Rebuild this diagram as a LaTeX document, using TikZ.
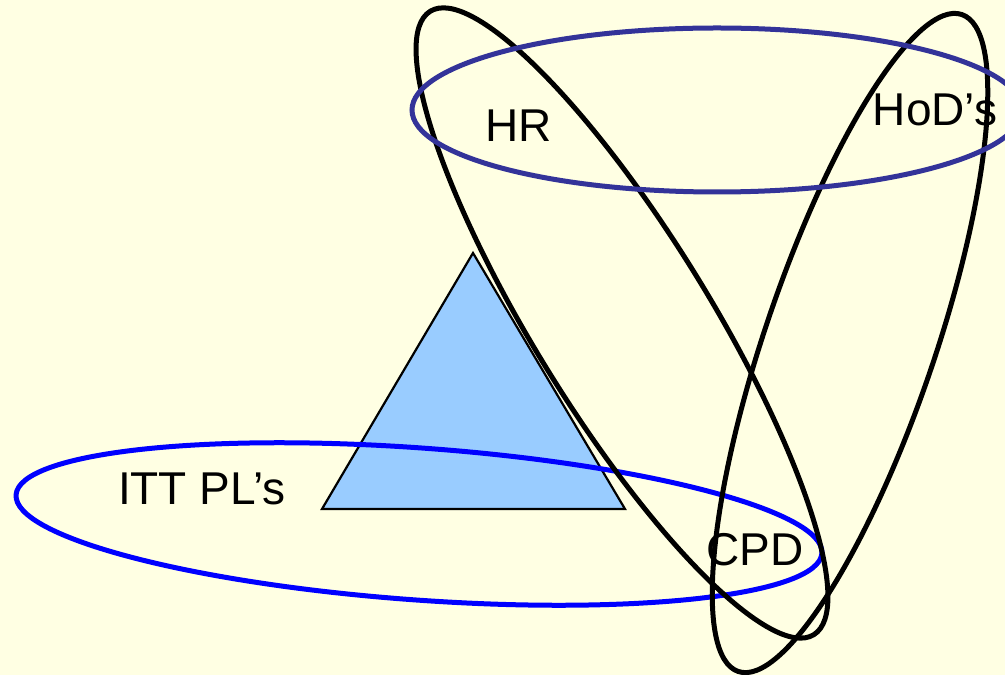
\documentclass[tikz,border=0pt]{standalone}
\usepackage{fontspec}
\setmainfont{Liberation Sans}
\usepackage{xcolor}
\usetikzlibrary{calc}

\definecolor{paper}{HTML}{FFFFE3}
\definecolor{navyring}{HTML}{333399}
\definecolor{bluering}{HTML}{0000FF}
\definecolor{skyfill}{HTML}{99CCFF}

\begin{document}
\begin{tikzpicture}[
  x=1pt, y=1pt,
  every node/.style={font=\fontsize{46}{55}\selectfont, inner sep=0pt},
  ring/.style={line width=5pt},
  tri/.style={draw, line width=2.2pt, fill=skyfill},
]

% Background
\fill[paper] (0,0) rectangle (1005,675);
\useasboundingbox (0,0) rectangle (1005,675);
\clip (0,0) rectangle (1005,675);

% Triangle
\coordinate (tl) at (322,166);
\coordinate (tt) at (473,422);
\coordinate (tr) at (625,166);
\draw[tri] (tl) -- (tt) -- (tr) -- cycle;

% Rings
\coordinate (itt) at (419,151);
\coordinate (hr) at (622,352);
\coordinate (hod) at (850,332);
\coordinate (top) at (717,565);

\draw[ring, bluering, rotate around={-4.15:(itt)}] (itt) ellipse [x radius=404pt, y radius=76pt];
\draw[ring, rotate around={-58.4:(hr)}] (hr) ellipse [x radius=366pt, y radius=88pt];
\draw[ring, rotate around={71.2:(hod)}] (hod) ellipse [x radius=347pt, y radius=85pt];
\draw[ring, navyring] (top) ellipse [x radius=305pt, y radius=82pt];

% Labels
\node (hrlabel) at (519,549) {HR};
\node (hodlabel) at (935,565) {HoD’s};
\node (ittlabel) at (202,186) {ITT PL’s};
\node (cpdlabel) at (755,125) {CPD};

\end{tikzpicture}
\end{document}
